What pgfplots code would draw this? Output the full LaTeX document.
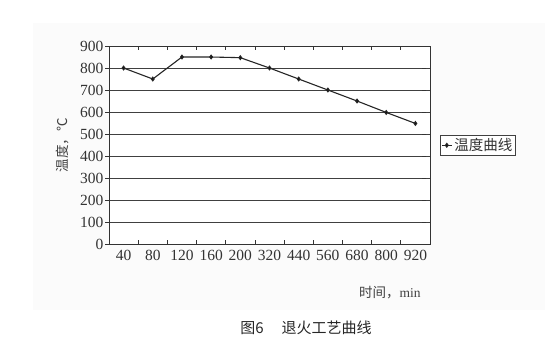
\documentclass[border=0pt]{standalone}
\usepackage{fontspec}
\setmainfont{Liberation Serif}
\newfontfamily\cjk{Noto Sans CJK SC}
\usepackage{pgfplots}
\pgfplotsset{compat=1.18}
\begin{document}
\begin{tikzpicture}[x=1pt,y=1pt]
\path (0,0) rectangle (554,359);
\fill[black!1.5] (33,49) rectangle (545,336);
\begin{axis}[
  at={(109pt,115pt)}, anchor=south west,
  scale only axis, width=321pt, height=198pt,
  xmin=-0.5, xmax=10.5, ymin=0, ymax=900,
  axis background/.style={fill=white},
  xtick={0,...,10},
  xticklabels={40,80,120,160,200,320,440,560,680,800,920},
  minor xtick={0.5,1.5,...,9.5},
  ytick={0,100,...,900},
  tick align=inside,
  major x tick style={draw=none},
  minor tick length=4pt,
  major tick length=4pt,
  ytick style={xshift=-4pt, black!80, line width=1pt},
  minor x tick style={black!80, line width=0.8pt},
  ymajorgrids,
  grid style={black!75, line width=1pt},
  axis line style={black!80, line width=1pt},
  /pgf/number format/assume math mode=true,
  ticklabel style={font=\fontsize{15.5}{17}\selectfont, text=black!80},
  yticklabel style={xshift=-2pt},
  xticklabel style={yshift=-3pt},
  every axis y label/.style={at={(axis description cs:-0.145,0.5)},rotate=90,anchor=center},
  every axis x label/.style={at={(axis description cs:0.875,-0.247)},anchor=center},
  ylabel={\cjk\fontsize{13.5}{15}\selectfont 温度，℃},
  xlabel={\cjk\fontsize{13.5}{15}\selectfont 时间，\rmfamily min},
  label style={text=black!75},
  legend style={at={(1.031,0.55)}, anchor=north west, draw=black!75, line width=0.6pt,
    font=\cjk\fontsize{14.5}{16}\selectfont, text=black!80, inner sep=1pt,
    /tikz/every even column/.append style={column sep=0pt}},
  legend image code/.code={\draw[mark repeat=2,mark phase=2,#1] plot coordinates {(0pt,0pt) (5pt,0pt) (10pt,0pt)};},
  clip=false,
]
\addplot[black!85, line width=1.1pt, mark=diamond*, mark size=1.8pt, mark options={solid, fill=black}]
  coordinates {(0,800) (1,750) (2,850) (3,850) (4,847) (5,800) (6,750) (7,700) (8,650) (9,598) (10,548)};
\addlegendentry{温度曲线}
\end{axis}
\node[font=\cjk\fontsize{15}{17}\selectfont, text=black!85] at (306pt,31pt) {图6\hspace{1.2em}退火工艺曲线};
\end{tikzpicture}
\end{document}
